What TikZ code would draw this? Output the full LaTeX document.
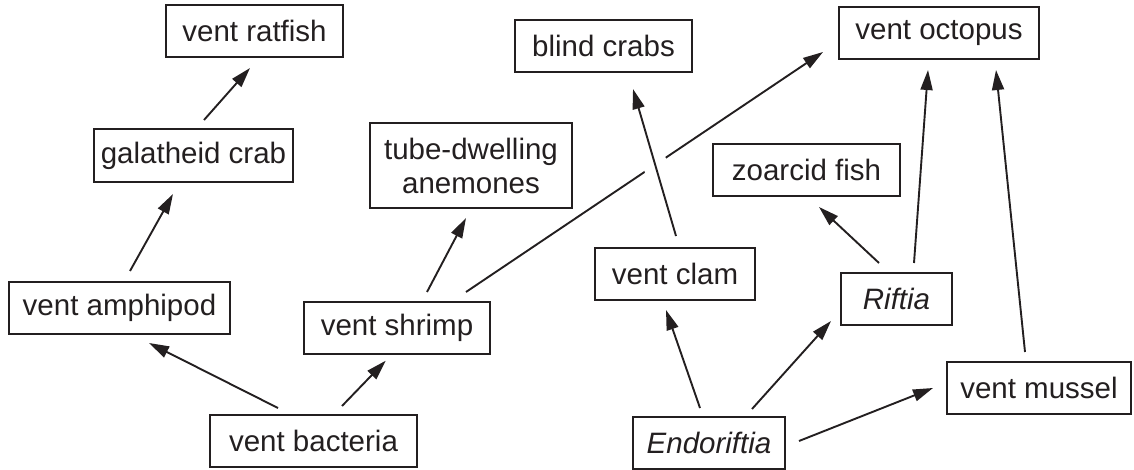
\documentclass[tikz,border=0pt]{standalone}
\usepackage{fontspec}
\setmainfont{Liberation Sans}
\usetikzlibrary{arrows.meta,calc}
\definecolor{ink}{HTML}{231F20}
\tikzset{
  box/.style={draw=ink, line width=2pt, inner sep=0pt, align=center, text=ink,
              font=\fontsize{29.5}{34}\selectfont},
  arr/.style={draw=ink, line width=1.9pt, -{Triangle[length=20pt,width=12pt]}},
}
\begin{document}
\begin{tikzpicture}[x=1pt,y=-1pt]
\useasboundingbox (0,0) rectangle (1134,470);
% nodes
\node[box, minimum width=177pt, minimum height=52pt] (rat)  at (254.5,31)  {vent ratfish};
\node[box, minimum width=199pt, minimum height=53pt] (gal)  at (193.5,155.5) {galatheid crab};
\node[box, minimum width=221pt, minimum height=52pt] (amph) at (119.5,308) {vent amphipod};
\node[box, minimum width=207pt, minimum height=52pt] (bac)  at (313.5,441) {vent bacteria};
\node[box, minimum width=186pt, minimum height=52pt] (shr)  at (397,328)   {vent shrimp};
\node[box, minimum width=202pt, minimum height=85pt] (anem) at (471,165.5) {tube-dwelling\\anemones};
\node[box, minimum width=177pt, minimum height=52pt] (crab) at (603.5,46)  {blind crabs};
\node[box, minimum width=200pt, minimum height=52pt] (oct)  at (939,33)    {vent octopus};
\node[box, minimum width=187pt, minimum height=52pt] (zoa)  at (806.5,170) {zoarcid fish};
\node[box, minimum width=160pt, minimum height=52pt] (clam) at (675,274)   {vent clam};
\node[box, minimum width=111pt, minimum height=52pt] (rif)  at (896.5,299) {\itshape Riftia};
\node[box, minimum width=152pt, minimum height=52pt] (endo) at (709,443)   {\itshape Endoriftia};
\node[box, minimum width=184pt, minimum height=52pt] (mus)  at (1039,388)  {vent mussel};
% connectors
\draw[arr] ([shift={(-35.5,-33)}]bac.center) -- ([shift={(29.5,35)}]amph.center);
\draw[arr] ([shift={(28.5,-35)}]bac.center) -- ([shift={(-11.3,32.7)}]shr.center);
\draw[arr] ([shift={(10.5,-37)}]amph.center) -- ([shift={(-20.5,38.5)}]gal.center);
\draw[arr] ([shift={(10.5,-35.5)}]gal.center) -- ([shift={(-4.5,37)}]rat.center);
\draw[arr] ([shift={(30,-36)}]shr.center) -- ([shift={(-5,52.5)}]anem.center);
\draw[arr] ([shift={(69,-36)}]shr.center) -- ([shift={(-116,19)}]oct.center);
\coordinate (c1) at ([shift={(1,-38)}]clam.center);
\coordinate (c2) at ([shift={(29.5,43)}]crab.center);
\draw[white, line width=24pt] ($(c1)!0.38!(c2)$) -- ($(c1)!0.6!(c2)$);
\draw[arr] (c1) -- (c2);
\draw[arr] ([shift={(-9,-35)}]endo.center) -- ([shift={(-9,36)}]clam.center);
\draw[arr] ([shift={(43,-34)}]endo.center) -- ([shift={(-65.5,22)}]rif.center);
\draw[arr] ([shift={(90,-2)}]endo.center) -- ([shift={(-106,0)}]mus.center);
\draw[arr] ([shift={(-17.5,-36)}]rif.center) -- ([shift={(12.5,37)}]zoa.center);
\draw[arr] ([shift={(17.5,-36)}]rif.center) -- ([shift={(-11,37)}]oct.center);
\draw[arr] ([shift={(-14,-36)}]mus.center) -- ([shift={(57,37)}]oct.center);
\end{tikzpicture}
\end{document}
